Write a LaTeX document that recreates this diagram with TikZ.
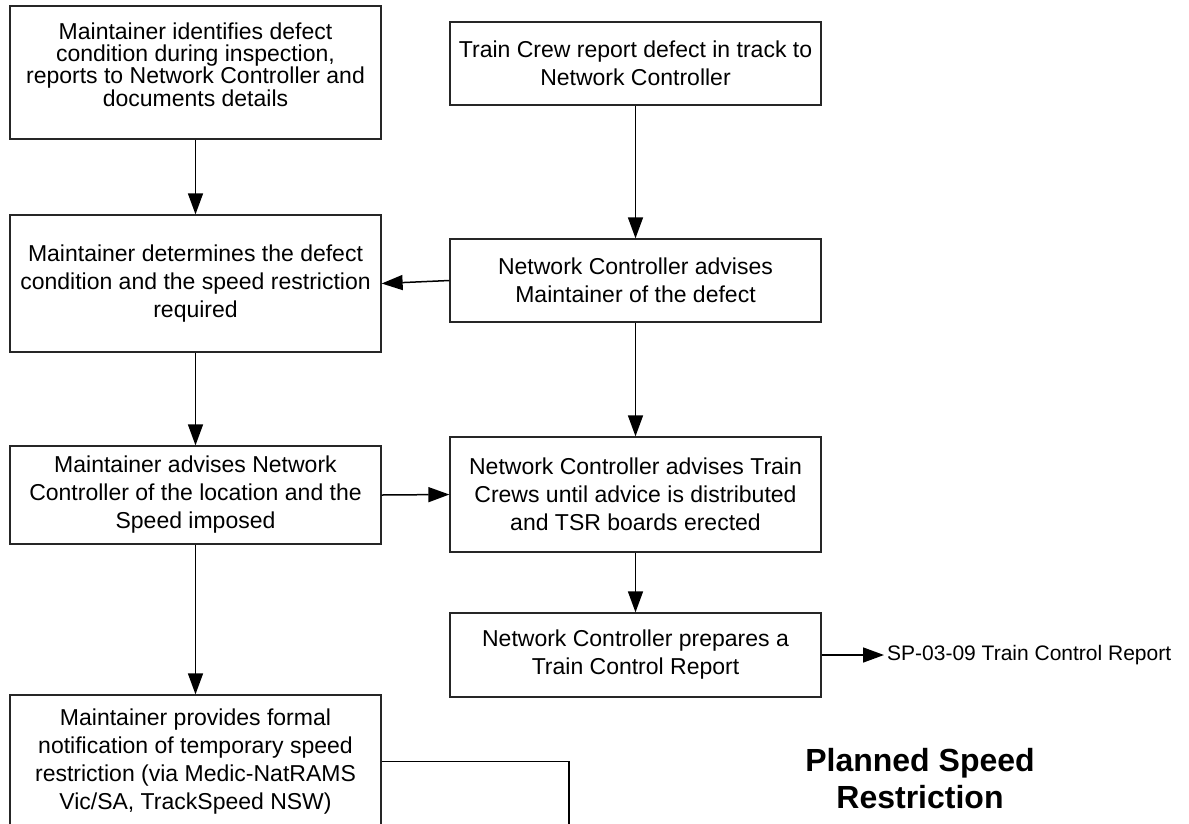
\documentclass[tikz,border=0pt]{standalone}
\usepackage{fontspec}
\setmainfont{Liberation Sans}
\usetikzlibrary{arrows.meta}
\begin{document}
\begin{tikzpicture}[x=1pt,y=-1pt,
  box/.style={draw=black!85, line width=1.3pt, rectangle, inner sep=0pt, align=center,
    minimum width=371pt, font=\fontsize{23}{28}\selectfont},
  txt/.style={inner sep=0pt, align=center, font=\fontsize{23}{22.3}\selectfont},
  flow/.style={draw=black, line width=1.5pt, -{Triangle[length=21pt,width=15pt]}},
  plain/.style={draw=black, line width=1.5pt},
]
\useasboundingbox (0,0) rectangle (1189,823);

% left column
\node[box, minimum height=133pt] (A) at (195.5,72.5) {};
\node[txt] (Atxt) at (195.5,64.5) {Maintainer identifies defect\\condition during inspection,\\reports to Network Controller and\\documents details};
\node[box, minimum height=137pt] (D) at (195.5,283.5) {Maintainer determines the defect\\condition and the speed restriction\\required};
\node[box, minimum height=98pt] (E) at (195.5,495) {Maintainer advises Network\\Controller of the location and the\\Speed imposed};
\node[box, minimum height=133pt] (H) at (195.5,761.5) {Maintainer provides formal\\notification of temporary speed\\restriction (via Medic-NatRAMS\\Vic/SA, TrackSpeed NSW)};

% right column
\node[box, minimum height=83pt] (B) at (635.5,63.5) {Train Crew report defect in track to\\Network Controller};
\node[box, minimum height=83pt] (C) at (635.5,280.5) {Network Controller advises\\Maintainer of the defect};
\node[box, minimum height=115pt] (F) at (635.5,494.5) {Network Controller advises Train\\Crews until advice is distributed\\and TSR boards erected};
\node[box, minimum height=84pt] (G) at (635.5,655) {Network Controller prepares a\\Train Control Report};

\node[inner sep=0pt, anchor=west, font=\fontsize{21}{25}\selectfont] (SP) at (887,655) {SP-03-09 Train Control Report};

\node[inner sep=0pt, align=center, font=\bfseries\fontsize{32}{37}\selectfont] (title) at (920,778.5) {Planned Speed\\Restriction};

% connectors
\draw[flow] (A) -- (D);
\draw[flow] (D) -- (E);
\draw[flow] (E) -- (H);
\draw[flow] (B) -- (C);
\draw[flow] (C) -- (F);
\draw[flow] (F) -- (G);
\draw[flow] (C.west) -- (D.east);
\draw[flow] (E.east) -- (F.west);
\draw[flow] (G.east) -- ([xshift=-3pt]SP.west);
\coordinate (Hc) at (569,761.5);
\coordinate (Hd) at (569,840);
\draw[plain] (H.east) -- (Hc) -- (Hd);
\end{tikzpicture}
\end{document}
